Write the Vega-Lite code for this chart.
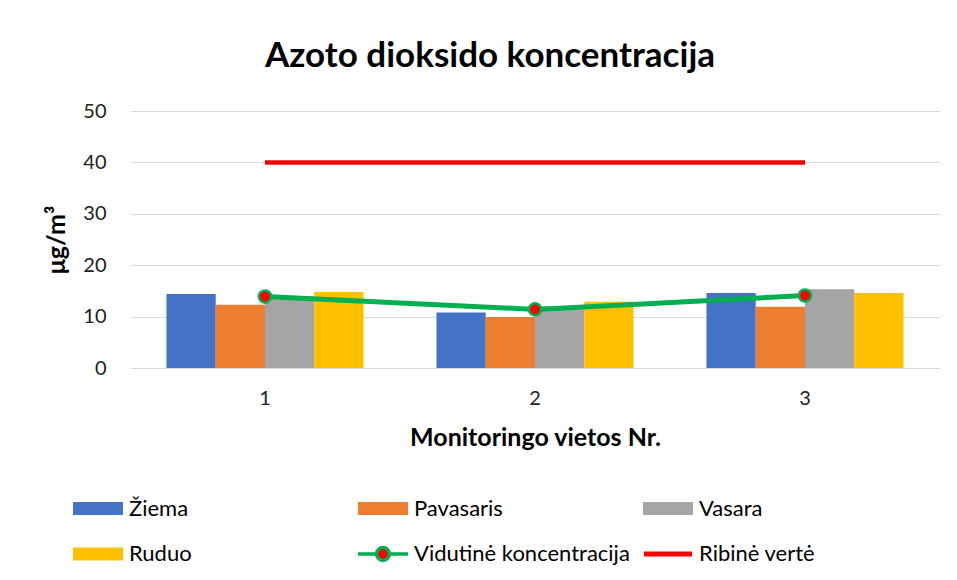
{
  "$schema": "https://vega.github.io/schema/vega-lite/v6.json",
  "width": 810,
  "height": 257,
  "autosize": "none",
  "padding": {"left": 130, "top": 111, "right": 17, "bottom": 212},
  "background": "white",
  "title": {
    "text": "Azoto dioksido koncentracija",
    "fontSize": 35,
    "font": "Lato",
    "fontWeight": "bold",
    "color": "#000000",
    "dx": -45,
    "offset": 27
  },
  "datasets": {
    "bars": [
      {"Nr": "1", "Sezonas": "Žiema", "value": 14.4},
      {"Nr": "1", "Sezonas": "Pavasaris", "value": 12.3},
      {"Nr": "1", "Sezonas": "Vasara", "value": 13.9},
      {"Nr": "1", "Sezonas": "Ruduo", "value": 14.8},
      {"Nr": "2", "Sezonas": "Žiema", "value": 10.8},
      {"Nr": "2", "Sezonas": "Pavasaris", "value": 9.9},
      {"Nr": "2", "Sezonas": "Vasara", "value": 12.0},
      {"Nr": "2", "Sezonas": "Ruduo", "value": 12.9},
      {"Nr": "3", "Sezonas": "Žiema", "value": 14.6},
      {"Nr": "3", "Sezonas": "Pavasaris", "value": 11.9},
      {"Nr": "3", "Sezonas": "Vasara", "value": 15.3},
      {"Nr": "3", "Sezonas": "Ruduo", "value": 14.6}
    ],
    "avg": [
      {"Nr": "1", "value": 13.9},
      {"Nr": "2", "value": 11.4},
      {"Nr": "3", "value": 14.1}
    ],
    "limit": [
      {"Nr": "1", "value": 40},
      {"Nr": "3", "value": 40}
    ]
  },
  "encoding": {
    "x": {
      "field": "Nr",
      "type": "nominal",
      "title": "Monitoringo vietos Nr.",
      "scale": {"paddingInner": 0.27, "paddingOuter": 0.135},
      "axis": {
        "labelAngle": 0,
        "domain": false,
        "ticks": false,
        "grid": false,
        "labelPadding": 20,
        "titlePadding": 17
      }
    }
  },
  "layer": [
    {
      "data": {"name": "bars"},
      "mark": {"type": "bar"},
      "encoding": {
        "xOffset": {
          "field": "Sezonas",
          "type": "nominal",
          "sort": ["Žiema", "Pavasaris", "Vasara", "Ruduo"],
          "scale": {"paddingInner": 0, "paddingOuter": 0}
        },
        "y": {
          "field": "value",
          "type": "quantitative",
          "title": "μg/m³",
          "scale": {"domain": [0, 50]},
          "axis": {
            "values": [0, 10, 20, 30, 40, 50],
            "domain": false,
            "ticks": false,
            "labelPadding": 24,
            "titlePadding": 13,
            "gridColor": "#D9D9D9",
            "gridWidth": 1
          }
        },
        "color": {
          "field": "Sezonas",
          "type": "nominal",
          "scale": {
            "domain": ["Žiema", "Pavasaris", "Vasara", "Ruduo", "Vidutinė koncentracija", "Ribinė vertė"],
            "range": ["#4472C4", "#ED7D31", "#A5A5A5", "#FFC000", "#FF0000", "#FF0000"]
          },
          "legend": {
            "orient": "none",
            "legendX": -43,
            "legendY": 385,
            "columns": 3,
            "direction": "horizontal",
            "gridAlign": "all",
            "columnPadding": 4,
            "rowPadding": 19,
            "title": null,
            "padding": 0,
            "symbolSize": 1600,
            "labelOffset": 20,
            "labelFont": "Lato",
            "labelFontSize": 22,
            "labelColor": "#000000",
            "labelLimit": 400,
            "encode": {
              "symbols": {
                "update": {
                  "shape": {"signal": "datum.value === 'Vidutinė koncentracija' ? 'M-1.25,0H-0.32M0.32,0H1.25M0.32,0A0.32,0.32,0,1,1,-0.32,0A0.32,0.32,0,1,1,0.32,0' : datum.value === 'Ribinė vertė' ? 'M-1.2,0H1.2' : 'M-1.25,-0.33H1.25V0.33H-1.25Z'"},
                  "stroke": {"signal": "datum.value === 'Vidutinė koncentracija' ? '#00B050' : datum.value === 'Ribinė vertė' ? '#FF0000' : 'transparent'"},
                  "strokeWidth": {"signal": "datum.value === 'Vidutinė koncentracija' ? 3.5 : datum.value === 'Ribinė vertė' ? 5 : 0"},
                  "opacity": {"value": 1}
                }
              }
            }
          }
        }
      }
    },
    {
      "data": {"name": "avg"},
      "mark": {"type": "line", "strokeWidth": 5, "stroke": "#00B050"},
      "encoding": {
        "y": {"field": "value", "type": "quantitative"}
      }
    },
    {
      "data": {"name": "avg"},
      "mark": {"type": "point", "filled": true, "fill": "#FF0000", "stroke": "#00B050", "strokeWidth": 2.5, "size": 150, "opacity": 1},
      "encoding": {
        "y": {"field": "value", "type": "quantitative"}
      }
    },
    {
      "data": {"name": "limit"},
      "mark": {"type": "line", "strokeWidth": 4.5, "stroke": "#FF0000"},
      "encoding": {
        "y": {"field": "value", "type": "quantitative"}
      }
    }
  ],
  "config": {
    "font": "Lato",
    "view": {"stroke": null},
    "axis": {
      "labelFont": "Lato",
      "labelFontSize": 20,
      "labelColor": "#222222",
      "titleFont": "Lato",
      "titleFontSize": 25,
      "titleFontWeight": "bold",
      "titleColor": "#000000"
    }
  }
}
